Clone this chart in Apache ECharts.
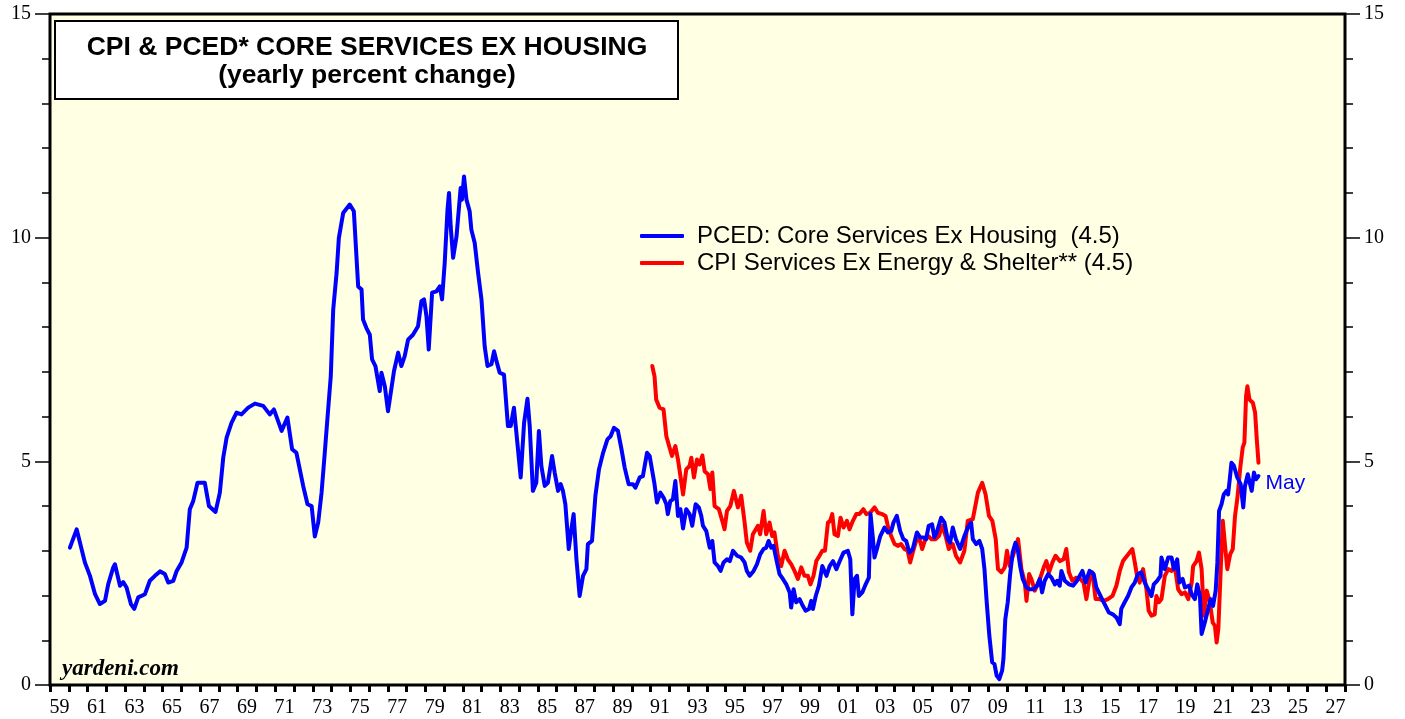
<!DOCTYPE html>
<html>
<head>
<meta charset="utf-8">
<script src="https://cdn.jsdelivr.net/npm/echarts@6/dist/echarts.min.js"></script>
<style>
html,body{margin:0;padding:0;background:#fff;}
#chart{width:1405px;height:719px;}
</style>
</head>
<body>
<div id="chart"></div>
<script>
// ---- data (decimal year, yearly % change) ----
const pcedYears = [1960.06,1960.42,1960.86,1961.13,1961.4,1961.66,1961.93,1962.1,1962.37,1962.46,1962.73,1962.9,1963.08,1963.31,1963.49,1963.7,1964.06,1964.32,1964.59,1964.86,1965.12,1965.3,1965.57,1965.75,1966.01,1966.28,1966.45,1966.63,1966.86,1967.25,1967.47,1967.82,1968.05,1968.23,1968.41,1968.67,1968.94,1969.2,1969.56,1969.92,1970.36,1970.71,1970.93,1971.34,1971.65,1971.9,1972.13,1972.49,1972.72,1972.94,1973.11,1973.29,1973.47,1973.64,1973.82,1973.96,1974.09,1974.27,1974.39,1974.62,1974.97,1975.19,1975.42,1975.6,1975.68,1975.86,1976.04,1976.16,1976.34,1976.57,1976.66,1976.84,1977.01,1977.1,1977.33,1977.55,1977.72,1977.9,1978.08,1978.34,1978.61,1978.79,1978.93,1979.06,1979.18,1979.36,1979.59,1979.77,1979.89,1980.03,1980.18,1980.26,1980.35,1980.48,1980.66,1980.88,1980.95,1981.06,1981.19,1981.36,1981.45,1981.63,1981.81,1981.99,1982.16,1982.31,1982.52,1982.66,1982.79,1982.96,1983.19,1983.4,1983.55,1983.72,1983.9,1984.08,1984.26,1984.44,1984.56,1984.73,1984.91,1985.05,1985.18,1985.36,1985.53,1985.75,1985.89,1986.07,1986.21,1986.33,1986.46,1986.64,1986.78,1986.9,1987.05,1987.22,1987.4,1987.58,1987.66,1987.88,1988.06,1988.25,1988.47,1988.7,1988.87,1989.05,1989.26,1989.45,1989.62,1989.83,1990.06,1990.19,1990.42,1990.59,1990.81,1990.95,1991.09,1991.21,1991.34,1991.52,1991.69,1991.84,1991.92,1992.05,1992.19,1992.32,1992.46,1992.59,1992.73,1992.9,1993.08,1993.22,1993.4,1993.57,1993.7,1993.79,1993.97,1994.15,1994.29,1994.41,1994.59,1994.73,1994.89,1995.07,1995.22,1995.39,1995.61,1995.83,1996.01,1996.13,1996.28,1996.49,1996.67,1996.84,1997.02,1997.16,1997.29,1997.43,1997.55,1997.7,1997.87,1998.05,1998.23,1998.41,1998.49,1998.62,1998.76,1998.94,1999.11,1999.26,1999.44,1999.56,1999.65,1999.8,1999.97,2000.15,2000.37,2000.54,2000.72,2000.9,2001.08,2001.28,2001.51,2001.64,2001.75,2001.87,2002.0,2002.1,2002.28,2002.46,2002.63,2002.72,2002.85,2002.93,2003.06,2003.24,2003.46,2003.64,2003.82,2003.94,2004.12,2004.3,2004.47,2004.62,2004.79,2004.97,2005.19,2005.36,2005.54,2005.68,2005.82,2006.0,2006.12,2006.27,2006.48,2006.66,2006.83,2006.96,2007.1,2007.27,2007.49,2007.72,2007.95,2008.08,2008.17,2008.35,2008.52,2008.67,2008.79,2008.91,2009.05,2009.2,2009.32,2009.44,2009.58,2009.73,2009.8,2009.9,2010.03,2010.15,2010.29,2010.44,2010.56,2010.69,2010.83,2011.03,2011.2,2011.42,2011.59,2011.74,2011.86,2012.0,2012.18,2012.36,2012.54,2012.66,2012.8,2012.89,2013.07,2013.3,2013.51,2013.72,2014.01,2014.18,2014.39,2014.61,2014.75,2015.01,2015.24,2015.42,2015.63,2015.82,2016.0,2016.08,2016.26,2016.44,2016.62,2016.8,2016.97,2017.15,2017.33,2017.51,2017.69,2017.81,2017.99,2018.17,2018.22,2018.4,2018.58,2018.76,2018.88,2019.06,2019.17,2019.35,2019.47,2019.7,2019.83,2020.0,2020.13,2020.27,2020.36,2020.53,2020.71,2020.84,2020.97,2021.11,2021.2,2021.29,2021.42,2021.54,2021.69,2021.77,2021.86,2021.95,2022.08,2022.26,2022.44,2022.58,2022.67,2022.82,2022.94,2023.03,2023.15,2023.26,2023.39];
const pcedValues = [3.07,3.48,2.74,2.44,2.03,1.81,1.88,2.25,2.63,2.70,2.22,2.30,2.18,1.81,1.70,1.96,2.03,2.33,2.44,2.54,2.48,2.29,2.33,2.55,2.74,3.07,3.93,4.11,4.52,4.52,4.00,3.87,4.30,5.08,5.53,5.86,6.09,6.05,6.20,6.29,6.24,6.05,6.16,5.68,5.98,5.27,5.19,4.45,4.04,4.00,3.32,3.63,4.30,5.19,6.16,6.90,8.39,9.21,9.99,10.55,10.74,10.59,8.91,8.84,8.17,7.98,7.83,7.28,7.13,6.57,6.98,6.68,6.12,6.12,7.02,7.43,7.13,7.35,7.72,7.83,8.02,8.58,8.62,8.24,7.50,8.77,8.80,8.91,8.62,9.43,10.63,11.0,10.25,9.55,10.03,11.11,10.85,11.37,10.85,10.59,10.18,9.88,9.21,8.62,7.57,7.13,7.17,7.46,7.24,6.98,6.94,5.79,5.79,6.20,5.42,4.64,5.86,6.40,5.79,4.34,4.52,5.68,4.90,4.45,4.52,5.12,4.75,4.34,4.49,4.34,4.04,3.04,3.48,3.82,2.81,1.99,2.44,2.59,3.15,3.22,4.23,4.82,5.19,5.49,5.56,5.75,5.68,5.27,4.86,4.49,4.49,4.41,4.64,4.67,5.19,5.12,4.78,4.49,4.08,4.30,4.19,4.04,3.82,4.11,4.15,4.56,3.78,3.93,3.50,3.93,3.82,3.56,4.04,3.97,3.78,3.56,3.44,3.07,3.22,2.74,2.66,2.55,2.74,2.81,2.77,3.00,2.89,2.85,2.74,2.55,2.44,2.55,2.70,2.92,3.04,3.07,3.22,3.07,3.11,2.81,2.48,2.37,2.25,2.07,1.73,2.14,1.85,1.92,1.77,1.66,1.70,1.88,1.70,1.99,2.22,2.66,2.44,2.66,2.77,2.59,2.77,2.96,3.00,2.81,1.58,2.37,2.44,1.99,2.07,2.25,2.40,3.82,3.26,2.85,3.04,3.33,3.52,3.41,3.44,3.63,3.78,3.44,3.26,3.22,2.96,3.04,3.41,3.30,3.30,3.26,3.56,3.59,3.30,3.44,3.74,3.63,3.26,3.18,3.52,3.26,3.04,3.33,3.56,3.63,3.26,3.15,3.22,3.04,2.59,1.85,1.10,0.51,0.47,0.21,0.13,0.32,0.58,1.47,1.85,2.44,2.96,3.18,3.04,2.66,2.37,2.18,2.14,2.14,2.22,2.37,2.07,2.33,2.48,2.40,2.25,2.33,2.22,2.55,2.33,2.25,2.22,2.33,2.55,2.29,2.55,2.48,2.18,1.96,1.77,1.62,1.58,1.51,1.36,1.70,1.85,1.99,2.18,2.29,2.48,2.52,2.29,2.14,1.99,2.25,2.33,2.44,2.85,2.59,2.85,2.85,2.59,2.81,2.29,2.37,2.18,2.22,2.03,1.92,2.25,1.99,1.14,1.40,1.70,1.92,1.77,2.11,2.74,3.89,4.04,4.26,4.34,4.26,4.60,4.97,4.90,4.64,4.49,3.97,4.45,4.71,4.49,4.34,4.75,4.60,4.67];

const cpiYears = [1991.09,1991.21,1991.3,1991.48,1991.69,1991.84,1992.01,1992.14,1992.32,1992.46,1992.59,1992.73,1992.9,1993.08,1993.17,1993.31,1993.47,1993.61,1993.76,1993.88,1994.06,1994.19,1994.29,1994.41,1994.64,1994.82,1994.94,1995.07,1995.25,1995.44,1995.65,1995.83,1996.01,1996.13,1996.31,1996.45,1996.72,1996.84,1997.02,1997.16,1997.34,1997.48,1997.6,1997.78,1997.96,1998.14,1998.31,1998.49,1998.67,1998.85,1999.03,1999.2,1999.38,1999.52,1999.68,1999.83,2000.0,2000.15,2000.29,2000.45,2000.57,2000.68,2000.8,2000.98,2001.12,2001.28,2001.46,2001.6,2001.78,2001.96,2002.13,2002.34,2002.49,2002.7,2002.93,2003.11,2003.34,2003.52,2003.64,2003.82,2004.0,2004.17,2004.35,2004.53,2004.7,2004.83,2004.97,2005.15,2005.33,2005.47,2005.61,2005.79,2005.97,2006.19,2006.36,2006.54,2006.72,2006.89,2007.1,2007.27,2007.49,2007.72,2007.9,2008.17,2008.44,2008.67,2008.85,2009.03,2009.21,2009.39,2009.51,2009.69,2009.87,2009.99,2010.13,2010.31,2010.58,2010.76,2010.94,2011.03,2011.17,2011.29,2011.47,2011.59,2011.77,2011.95,2012.09,2012.23,2012.41,2012.58,2012.8,2013.01,2013.15,2013.29,2013.47,2013.68,2013.9,2014.07,2014.22,2014.39,2014.54,2014.71,2014.93,2015.14,2015.37,2015.61,2015.82,2016.0,2016.17,2016.39,2016.67,2016.8,2016.92,2017.06,2017.24,2017.42,2017.54,2017.69,2017.86,2017.95,2018.09,2018.22,2018.4,2018.58,2018.76,2018.93,2019.11,2019.29,2019.47,2019.65,2019.83,2019.91,2020.09,2020.22,2020.36,2020.48,2020.63,2020.8,2020.95,2021.07,2021.16,2021.25,2021.38,2021.49,2021.61,2021.73,2021.88,2022.02,2022.14,2022.27,2022.41,2022.55,2022.64,2022.73,2022.8,2022.91,2023.09,2023.21,2023.3,2023.39];
const cpiValues = [7.13,6.90,6.38,6.20,6.16,5.56,5.31,5.12,5.34,5.04,4.67,4.26,4.82,4.90,5.08,4.64,5.04,4.93,5.13,4.78,4.71,4.38,4.75,4.00,3.93,3.67,3.48,3.89,4.00,4.34,3.97,4.23,3.63,3.18,3.00,3.37,3.56,3.37,3.89,3.37,3.63,3.33,3.41,2.89,2.66,3.00,2.81,2.70,2.55,2.37,2.63,2.44,2.44,2.25,2.44,2.77,2.89,3.00,3.00,3.63,3.67,3.82,3.37,3.33,3.74,3.52,3.67,3.48,3.67,3.82,3.82,3.93,3.82,3.85,3.97,3.85,3.82,3.78,3.56,3.33,3.15,3.11,3.15,3.04,3.00,2.74,2.96,3.22,3.26,3.04,3.22,3.33,3.26,3.26,3.33,3.56,3.33,3.04,3.15,2.89,2.74,3.00,3.67,3.71,4.30,4.52,4.26,3.78,3.67,3.26,2.59,2.52,2.63,3.00,2.66,2.89,3.26,2.59,2.29,1.88,2.48,2.37,2.11,2.22,2.40,2.63,2.77,2.52,2.74,2.89,2.77,2.81,3.04,2.52,2.33,2.40,2.37,2.29,1.92,2.37,2.52,1.92,1.92,1.88,1.92,1.99,2.22,2.55,2.77,2.89,3.04,2.74,2.44,2.29,2.59,2.14,1.66,1.55,1.58,1.99,1.85,1.92,2.44,2.59,2.55,2.66,2.14,2.03,2.07,1.92,2.29,2.66,2.77,2.96,2.59,1.55,2.11,1.85,1.40,1.32,0.95,1.25,2.59,3.67,3.11,2.59,2.92,3.04,3.78,4.19,4.82,5.31,5.42,6.46,6.68,6.38,6.31,6.09,5.49,4.97,4.52];

const seriesNames = ['PCED: Core Services Ex Housing  (4.5)', 'CPI Services Ex Energy & Shelter** (4.5)'];
const yTickLabels = ['0', '5', '10', '15'];
const titleLines = ['CPI & PCED* CORE SERVICES EX HOUSING', '(yearly percent change)'];

const pcedData = pcedYears.map((y, i) => [y, pcedValues[i]]);
const cpiData = cpiYears.map((y, i) => [y, cpiValues[i]]);

const chart = echarts.init(document.getElementById('chart'), null, {renderer: 'canvas'});

const serif = '"Liberation Serif", "Times New Roman", serif';
const sans = '"Liberation Sans", Arial, sans-serif';

function yLabel(v) {
  const s = String(Math.round(v));
  return yTickLabels.indexOf(s) >= 0 ? s : '';
}
function xLabel(v) {
  const r = Math.round(v);
  if (Math.abs(v - r) > 1e-6) return '';
  if (r % 2 !== 1) return '';
  return String(r % 100).padStart(2, '0');
}

const yAxisBase = {
  type: 'value', min: 0, max: 15, interval: 5,
  axisLine: {show: false},
  axisTick: {show: true, length: 15, lineStyle: {color: '#000', width: 1.5}},
  minorTick: {show: true, splitNumber: 5, length: 8, lineStyle: {color: '#000', width: 1.5}},
  splitLine: {show: false},
  minorSplitLine: {show: false},
  axisLabel: {formatter: yLabel, color: '#000', fontFamily: serif, fontSize: 20, margin: 19}
};

chart.setOption({
  animation: false,
  backgroundColor: '#ffffff',
  grid: {
    left: 50, right: 60, top: 14, bottom: 34,
    show: true, backgroundColor: '#FFFFE4', borderColor: '#000', borderWidth: 3
  },
  xAxis: [
    {
      type: 'value', min: 1959, max: 2028, interval: 1, position: 'bottom',
      axisLine: {show: false},
      axisTick: {show: true, length: 7, lineStyle: {color: '#000', width: 3}},
      axisLabel: {show: false},
      splitLine: {show: false}
    },
    {
      type: 'value', min: 1958.5, max: 2027.5, interval: 0.5, position: 'bottom',
      axisLine: {show: false},
      axisTick: {show: false},
      axisLabel: {formatter: xLabel, color: '#000', fontFamily: serif, fontSize: 20, margin: 13},
      splitLine: {show: false}
    }
  ],
  yAxis: [
    Object.assign({}, yAxisBase, {position: 'left'}),
    Object.assign({}, yAxisBase, {position: 'right'})
  ],
  legend: {
    show: true,
    data: [seriesNames[0], seriesNames[1]],
    orient: 'vertical',
    left: 640, top: 224, padding: 0,
    itemWidth: 44, itemHeight: 4, itemGap: 3,
    icon: 'roundRect',
    textStyle: {color: '#000', fontFamily: sans, fontSize: 24, padding: [0, 0, 0, 8]},
    selectedMode: false
  },
  graphic: [
    {
      type: 'rect', z: 50,
      shape: {x: 55, y: 21, width: 623, height: 78},
      style: {fill: '#ffffff', stroke: '#000', lineWidth: 2}
    },
    {
      type: 'text', z: 51, x: 367, y: 48,
      style: {text: titleLines[0], fill: '#000', font: 'bold 26.5px ' + sans, textAlign: 'center', textVerticalAlign: 'middle'}
    },
    {
      type: 'text', z: 51, x: 367, y: 76,
      style: {text: titleLines[1], fill: '#000', font: 'bold 26.5px ' + sans, textAlign: 'center', textVerticalAlign: 'middle'}
    },
    {
      type: 'text', z: 51, x: 62, y: 669,
      style: {text: 'yardeni.com', fill: '#000', font: 'italic bold 23px ' + serif, textAlign: 'left', textVerticalAlign: 'middle'}
    }
  ],
  series: [
    {
      name: seriesNames[1], type: 'line', data: cpiData, xAxisIndex: 0, yAxisIndex: 0,
      showSymbol: false, symbol: 'none', smooth: false,
      lineStyle: {color: '#FF0000', width: 4, join: 'round', cap: 'round'},
      itemStyle: {color: '#FF0000'}, z: 3
    },
    {
      name: seriesNames[0], type: 'line', data: pcedData, xAxisIndex: 0, yAxisIndex: 0,
      showSymbol: false, symbol: 'none', smooth: false,
      lineStyle: {color: '#0000FF', width: 4, join: 'round', cap: 'round'},
      itemStyle: {color: '#0000FF'}, z: 4,
      endLabel: {show: true, formatter: 'May', color: '#0000FF', fontFamily: sans, fontSize: 21, distance: 7, offset: [0, 7]}
    }
  ]
});
</script>
</body>
</html>
